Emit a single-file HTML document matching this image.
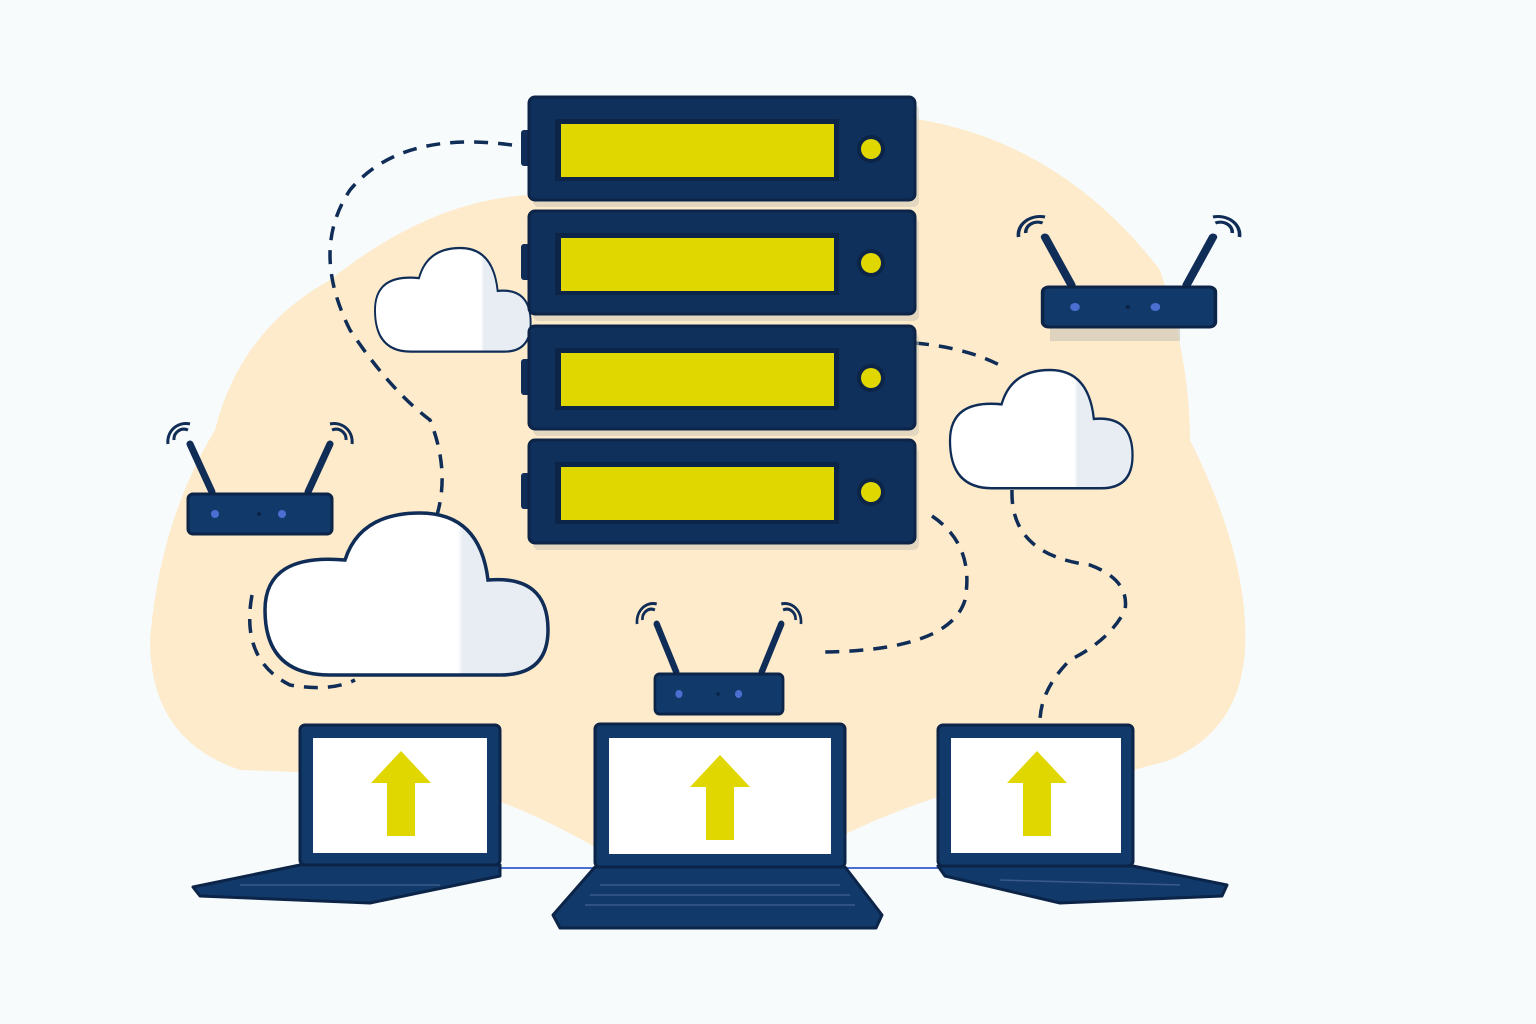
<!DOCTYPE html>
<html><head><meta charset="utf-8"><style>html,body{margin:0;padding:0;background:#f7fbfc}svg{display:block}</style></head>
<body>
<svg width="1536" height="1024" viewBox="0 0 1536 1024" xmlns="http://www.w3.org/2000/svg">
<defs>
<linearGradient id="cg" x1="0" x2="1" y1="0" y2="0"><stop offset="0.68" stop-color="#fff"/><stop offset="0.70" stop-color="#e8edf3"/></linearGradient>
<path id="cloud" d="M65 162 Q0 162 0 97 Q0 40 80 47 Q95 0 155 0 Q215 0 223 67 Q283 62 283 117 Q283 162 235 162 Z"/>
<g id="unit">
<rect x="533" y="104" width="386" height="103" rx="6" fill="#c9c3b4" opacity="0.5"/>
<rect x="521" y="130" width="12" height="36" rx="3" fill="#0f2d57"/>
<rect x="529" y="97" width="386" height="103" rx="6" fill="#10305c" stroke="#0b2447" stroke-width="3"/>
<rect x="555" y="119" width="284" height="62" fill="#0b2447"/>
<rect x="561" y="124" width="273" height="53" fill="#e0d600"/>
<circle cx="871" cy="149" r="14" fill="#0b2447"/>
<circle cx="871" cy="149" r="10" fill="#e0d600"/>
</g>
<g id="router">
<path d="M-70 -58 L-48 -10 M70 -58 L48 -10" stroke="#0f2d57" stroke-width="7" stroke-linecap="round"/>
<path d="M-86 -62 a10 10 0 0 1 14 -10 M-92 -58 a18 18 0 0 1 22 -20 M86 -62 a10 10 0 0 0 -14 -10 M92 -58 a18 18 0 0 0 -22 -20" stroke="#0f2d57" stroke-width="3" fill="none"/>
<rect x="-72" y="-8" width="144" height="40" rx="5" fill="#113a6b" stroke="#0b2447" stroke-width="3"/>
<circle cx="-45" cy="12" r="4" fill="#4a6fd0"/><circle cx="-1" cy="12" r="2" fill="#0b2447"/><circle cx="22" cy="12" r="4" fill="#4a6fd0"/>
</g>
<g id="arrow"><polygon points="0,0 30,32 14,32 14,85 -14,85 -14,32 -30,32" fill="#e0d600"/></g>
</defs>
<path d="M240 770 Q150 740 150 640 Q160 520 215 430 Q240 330 330 280 Q430 200 530 195 Q700 130 910 118 Q1060 140 1160 270 Q1190 360 1190 440 Q1250 560 1245 650 Q1240 730 1170 760 Q1070 790 960 790 Q860 820 780 870 Q700 880 600 850 Q480 780 380 775 Z" fill="#fdebcc"/>
<g fill="none" stroke="#0f2d57" stroke-width="3.5" stroke-dasharray="14 10">
<path d="M512 145 Q400 130 350 190 Q310 250 350 330 Q390 390 430 420 Q450 470 437 515"/>
<path d="M252 595 Q240 660 290 685 Q330 692 355 680"/>
<path d="M915 343 Q970 348 1005 368"/>
<path d="M932 516 Q975 545 965 600 Q950 650 825 652"/>
<path d="M1012 490 Q1010 555 1090 565 Q1130 580 1125 610 Q1110 640 1070 660 Q1040 690 1040 722"/>
</g>
<use href="#cloud" transform="translate(375 248) scale(0.55 0.64)" fill="url(#cg)" stroke="#0f2d57" stroke-width="3.5" vector-effect="non-scaling-stroke"/>
<use href="#cloud" transform="translate(950 370) scale(0.645 0.73)" fill="url(#cg)" stroke="#0f2d57" stroke-width="3.5" vector-effect="non-scaling-stroke"/>
<use href="#cloud" transform="translate(265 513)" fill="url(#cg)" stroke="#0f2d57" stroke-width="3.5"/>
<use href="#unit"/>
<use href="#unit" transform="translate(0 114)"/>
<use href="#unit" transform="translate(0 229)"/>
<use href="#unit" transform="translate(0 343)"/>
<rect x="1050" y="327" width="130" height="14" fill="#c9c3b4" opacity="0.6"/>
<use href="#router" transform="translate(1129 295) scale(1.2 1)"/>
<use href="#router" transform="translate(260 502)"/>
<use href="#router" transform="translate(719 682) scale(0.89 1)"/>
<line x1="500" y1="868" x2="940" y2="868" stroke="#4a6fd0" stroke-width="2"/>
<g fill="#113a6b" stroke="#0b2447" stroke-width="3" stroke-linejoin="round">
<polygon points="300,865 500,865 500,876 370,903 200,896 193,887"/>
<polygon points="595,867 845,867 882,915 876,928 560,928 553,915"/>
<polygon points="938,866 1133,866 1227,885 1222,896 1060,903 945,876"/>
<rect x="300" y="725" width="200" height="140" rx="5"/>
<rect x="595" y="724" width="250" height="143" rx="5"/>
<rect x="938" y="725" width="195" height="141" rx="5"/>
</g>
<rect x="313" y="738" width="174" height="115" fill="#fff"/>
<rect x="609" y="738" width="222" height="116" fill="#fff"/>
<rect x="951" y="738" width="170" height="115" fill="#fff"/>
<use href="#arrow" transform="translate(401 751)"/>
<use href="#arrow" transform="translate(720 755)"/>
<use href="#arrow" transform="translate(1037 751)"/>
<g stroke="#3a5a8a" stroke-width="1.5">
<line x1="600" y1="885" x2="840" y2="885"/><line x1="590" y1="895" x2="850" y2="895"/><line x1="585" y1="905" x2="855" y2="905"/>
<line x1="240" y1="885" x2="440" y2="885"/><line x1="1000" y1="880" x2="1180" y2="885"/>
</g>
</svg>
</body></html>
